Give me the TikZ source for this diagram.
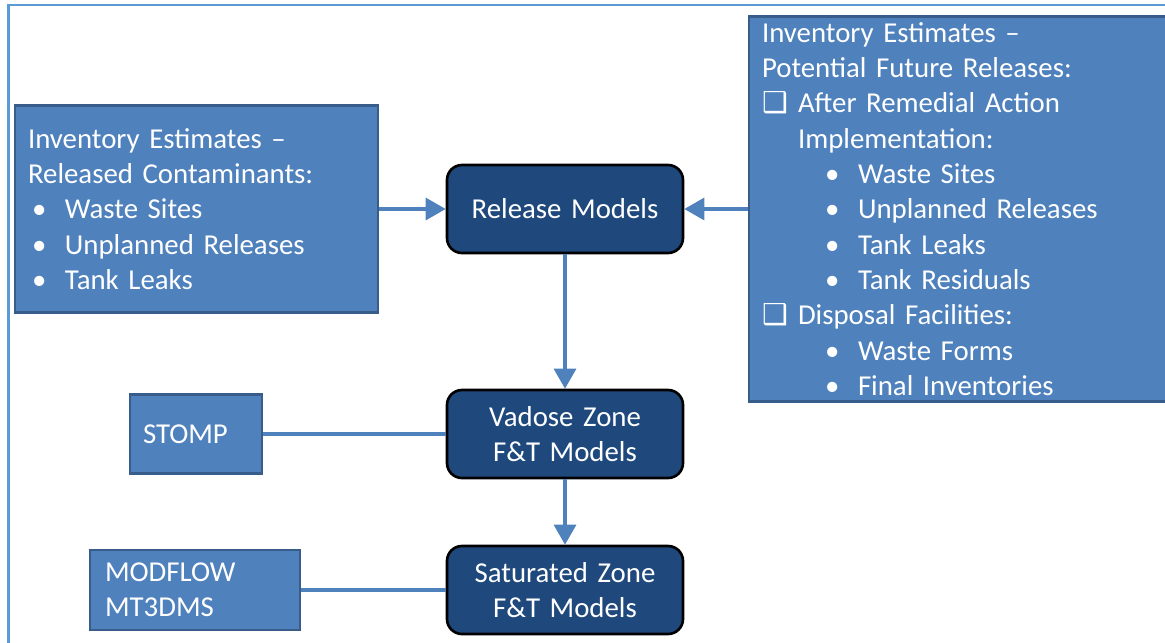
\documentclass[tikz,border=0pt]{standalone}
\usepackage{fontspec}
\setmainfont{Carlito}
\newfontfamily\symfont{DejaVu Sans}
\usetikzlibrary{arrows.meta,positioning}
\definecolor{boxblue}{HTML}{4F81BD}
\definecolor{boxedge}{HTML}{385D8A}
\definecolor{mdlblue}{HTML}{1F497D}
\definecolor{framec}{HTML}{5B9BD5}
\tikzstyle{mdl}=[draw=black,line width=1.5pt,fill=mdlblue,text=white,rounded corners=0.3cm,minimum width=4.72cm,minimum height=1.76cm,text width=4.4cm,align=center]
\tikzstyle{inv}=[draw=boxedge,line width=1.2pt,fill=boxblue,text=white,inner xsep=0.26cm,align=left]
\tikzstyle{code}=[draw=boxedge,line width=1.2pt,fill=boxblue,text=white,align=left]
\tikzstyle{conn}=[draw=boxblue,line width=1.8pt]
\newcommand{\bitem}[2]{\hspace*{#1}\makebox[0.66cm][l]{\textbullet}#2}
\newcommand{\citem}[1]{\makebox[0.72cm][l]{\symfont\bfseries ❑}#1}

\begin{document}
\begin{tikzpicture}[>={Triangle[length=0.4cm,width=0.44cm]},font=\fontsize{16.4}{20.1}\selectfont]
    \useasboundingbox (0,0) rectangle (23.3,-12.84);
    \clip (0,0) rectangle (23.3,-12.84);
    \draw[framec,line width=1.2pt] (0.17,-13.2) |- (23.6,-0.1);

    \node [mdl] (rel) at (11.3,-4.18) {Release Models};
    \node [mdl] (vad) [node distance=4.5cm,below of=rel] {Vadose Zone\\F\&T Models};
    \node [mdl] (sat) [node distance=3.12cm,below of=vad] {Saturated Zone\\F\&T Models};

    \node [inv,text width=6.74cm,minimum height=4.14cm] (invr) [node distance=7.37cm,left of=rel]
      {Inventory Estimates –\\Released Contaminants:\\
       \bitem{0.08cm}{Waste Sites}\\\bitem{0.08cm}{Unplanned Releases}\\\bitem{0.08cm}{Tank Leaks}};
    \node [inv,text width=8cm,minimum height=7.7cm] (invf) [node distance=7.94cm,right of=rel]
      {Inventory Estimates –\\Potential Future Releases:\\
       \citem{After Remedial Action}\\\hspace*{0.72cm}Implementation:\\
       \bitem{1.26cm}{Waste Sites}\\\bitem{1.26cm}{Unplanned Releases}\\
       \bitem{1.26cm}{Tank Leaks}\\\bitem{1.26cm}{Tank Residuals}\\
       \citem{Disposal Facilities:}\\
       \bitem{1.26cm}{Waste Forms}\\\bitem{1.26cm}{Final Inventories}};

    \node [code,text width=2.12cm,inner xsep=0.26cm,minimum height=1.58cm] (stomp) [node distance=7.38cm,left of=vad] {STOMP};
    \node [code,text width=3.6cm,inner xsep=0.3cm,minimum height=1.6cm] (modf) [node distance=7.4cm,left of=sat] {MODFLOW\\MT3DMS};

    \draw[conn,->] (invr) -- (rel);
    \draw[conn,->] (invf) -- (rel);
    \draw[conn,->] (rel) -- (vad);
    \draw[conn,->] (vad) -- (sat);
    \draw[conn] (stomp) -- (vad);
    \draw[conn] (modf) -- (sat);
\end{tikzpicture}
\end{document}
